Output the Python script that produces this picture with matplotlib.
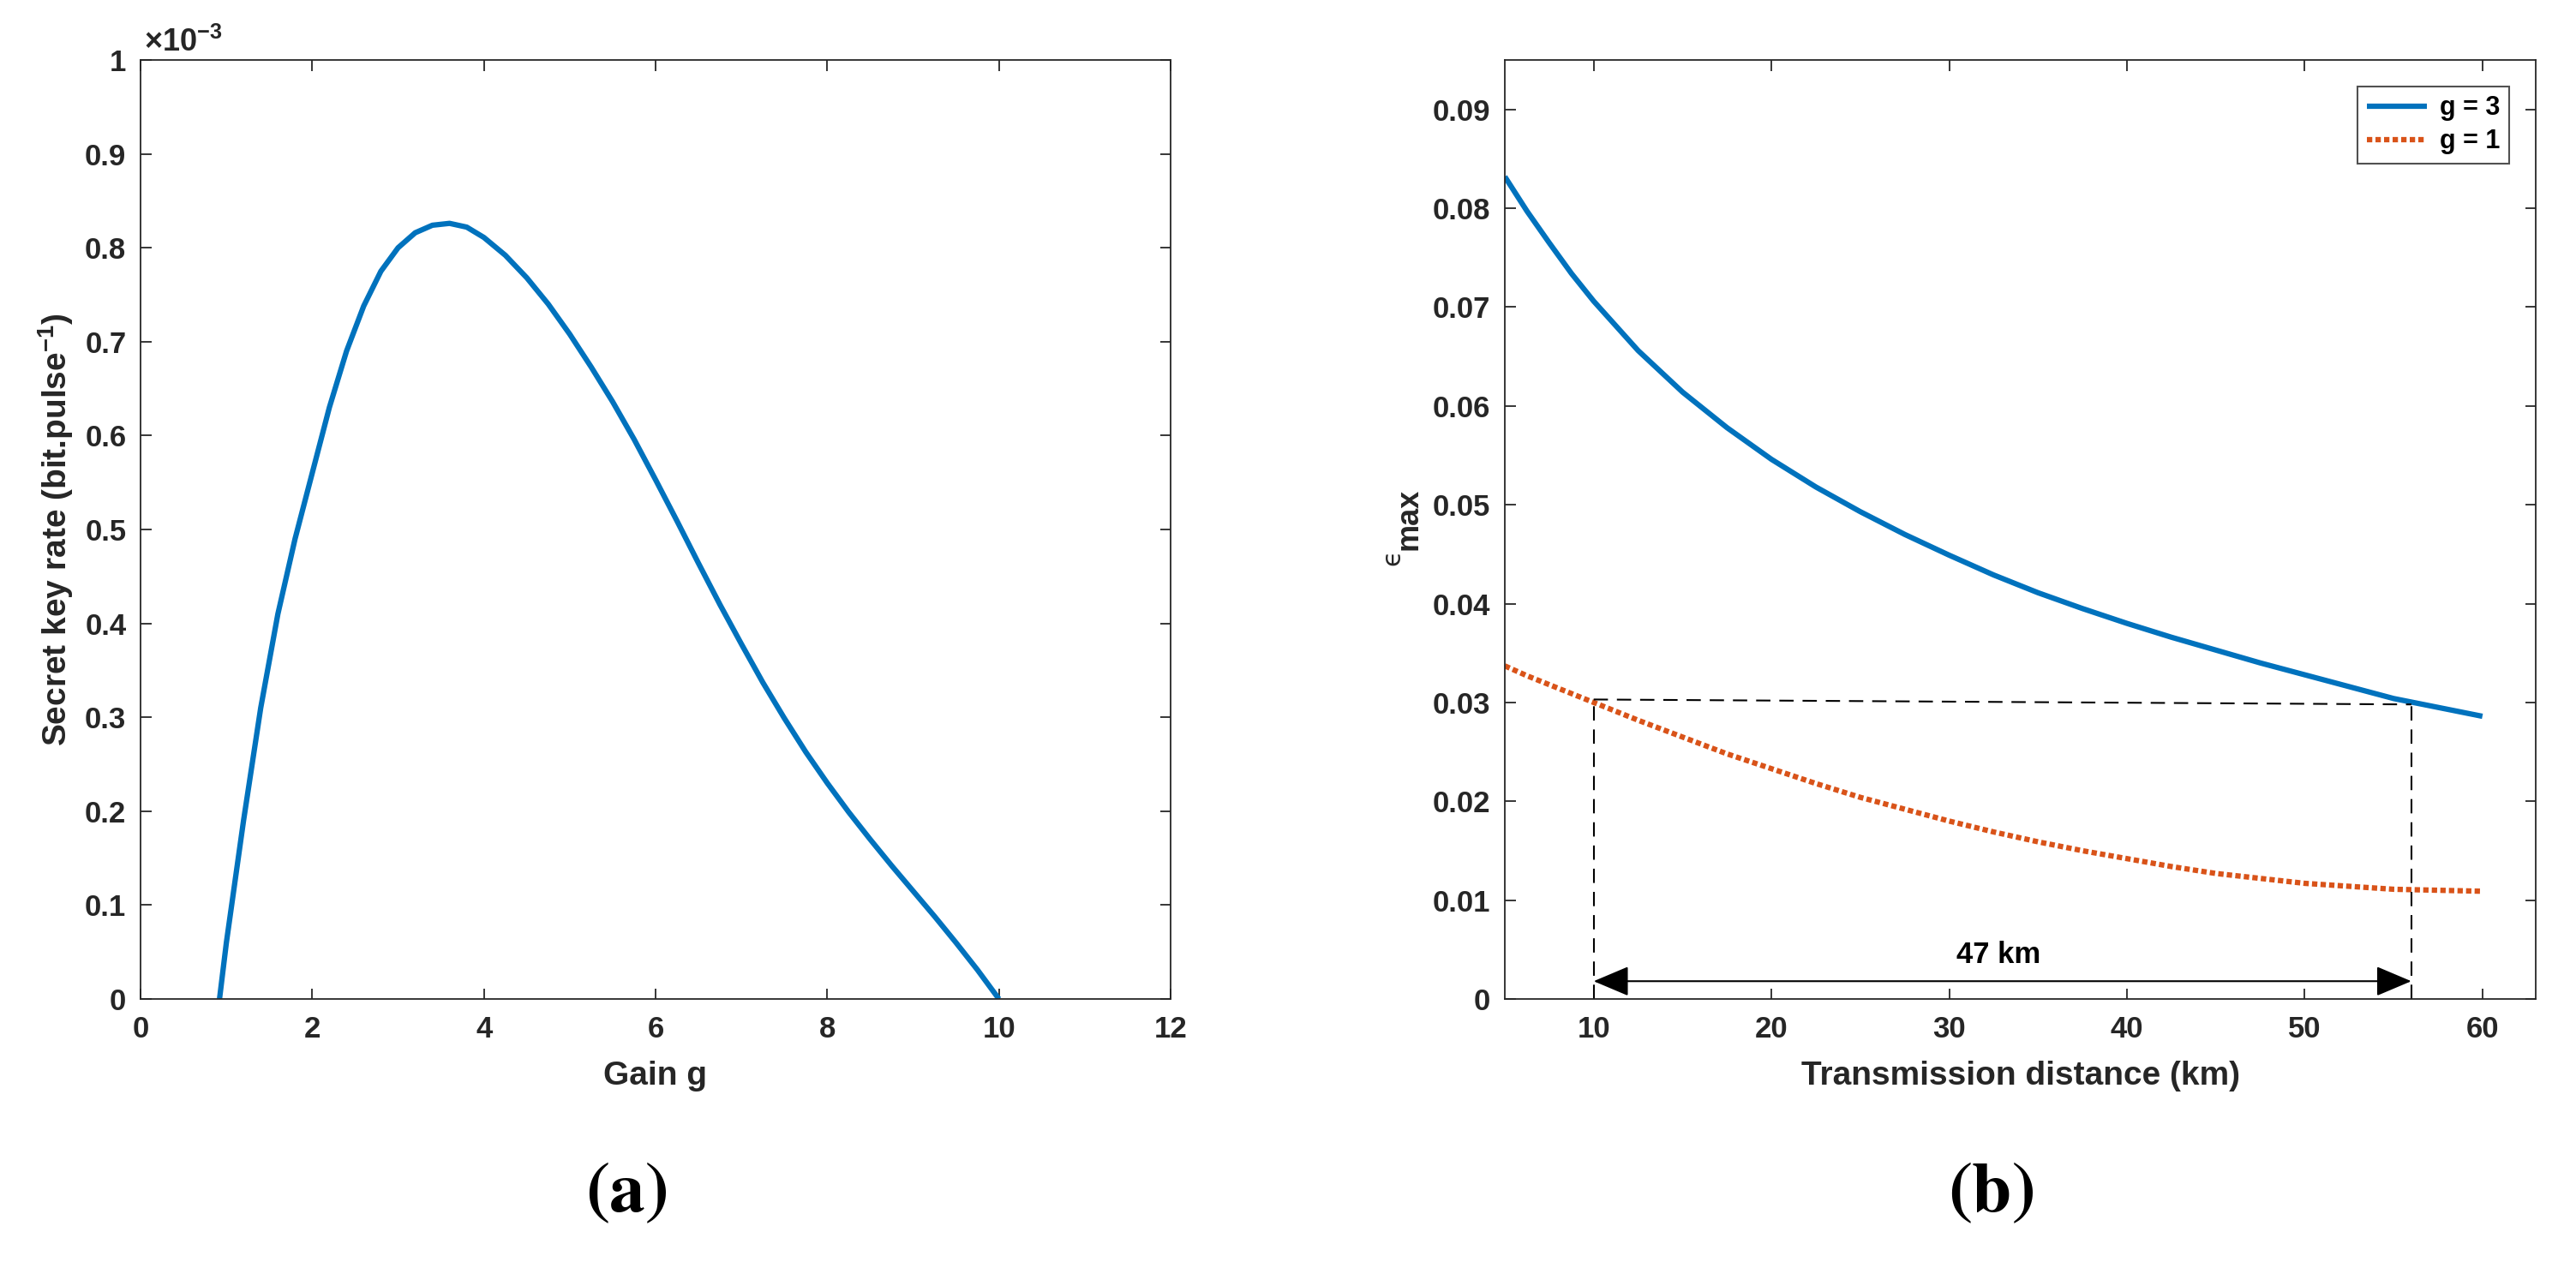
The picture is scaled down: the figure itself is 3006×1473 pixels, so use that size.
import matplotlib
matplotlib.use('Agg')
import matplotlib.pyplot as plt
from matplotlib.ticker import FixedLocator, FixedFormatter

plt.rcParams['font.family'] = ['Liberation Sans', 'DejaVu Sans']
plt.rcParams['font.weight'] = 'bold'
plt.rcParams['mathtext.fontset'] = 'custom'
plt.rcParams['mathtext.rm'] = 'Liberation Sans:bold'
plt.rcParams['mathtext.bf'] = 'Liberation Sans:bold'
plt.rcParams['mathtext.it'] = 'Liberation Sans:bold:italic'

# ---------------- data: panel (a) ----------------
gain = [0.92, 1.0, 1.2, 1.4, 1.6, 1.8, 2.0, 2.2, 2.4, 2.6, 2.8, 3.0, 3.2, 3.4,
        3.6, 3.8, 4.0, 4.25, 4.5, 4.75, 5.0, 5.25, 5.5, 5.75, 6.0, 6.25, 6.5,
        6.75, 7.0, 7.25, 7.5, 7.75, 8.0, 8.25, 8.5, 8.75, 9.0, 9.25, 9.5, 9.75, 10.0]
key_rate_e3 = [0.0, 0.06, 0.19, 0.31, 0.41, 0.49, 0.56, 0.63, 0.69, 0.738, 0.775,
               0.80, 0.816, 0.824, 0.826, 0.822, 0.811, 0.792, 0.768, 0.740, 0.708,
               0.673, 0.636, 0.596, 0.553, 0.509, 0.464, 0.420, 0.378, 0.337, 0.299,
               0.263, 0.230, 0.199, 0.170, 0.142, 0.115, 0.088, 0.060, 0.031, 0.0]

a_xticks = [0, 2, 4, 6, 8, 10, 12]
a_yticks = [0, 0.1, 0.2, 0.3, 0.4, 0.5, 0.6, 0.7, 0.8, 0.9, 1.0]
a_yticklabels = ['0', '0.1', '0.2', '0.3', '0.4', '0.5', '0.6', '0.7', '0.8', '0.9', '1']

# ---------------- data: panel (b) ----------------
distance = [5, 6.25, 7.5, 8.75, 10, 12.5, 15, 17.5, 20, 22.5, 25, 27.5, 30, 32.5,
            35, 37.5, 40, 42.5, 45, 47.5, 50, 52.5, 55, 57.5, 60]
eps_g3 = [0.0832, 0.0797, 0.0765, 0.0734, 0.0706, 0.0656, 0.0614, 0.0578, 0.0546,
          0.0518, 0.0493, 0.0470, 0.0449, 0.0429, 0.0411, 0.0395, 0.0380, 0.0366,
          0.0353, 0.0340, 0.0328, 0.0316, 0.0304, 0.0295, 0.0286]
eps_g1 = [0.0337, 0.0327, 0.0318, 0.0309, 0.0300, 0.0282, 0.0265, 0.0248, 0.0233,
          0.0218, 0.0204, 0.0192, 0.0180, 0.0169, 0.0159, 0.0150, 0.0142, 0.0134,
          0.0127, 0.0122, 0.0117, 0.0114, 0.0111, 0.0110, 0.0109]
b_xticks = [10, 20, 30, 40, 50, 60]
b_yticks = [0, 0.01, 0.02, 0.03, 0.04, 0.05, 0.06, 0.07, 0.08, 0.09]
b_yticklabels = ['0', '0.01', '0.02', '0.03', '0.04', '0.05', '0.06', '0.07', '0.08', '0.09']
series_labels = ['g = 3', 'g = 1']

# annotation geometry (data units)
guide_x = [10, 56]
guide_y = [0.0303, 0.0298]
arrow_y = 0.0018
span_label = '47 km'

BLUE = '#0072BD'
ORANGE = '#D95319'
AX = '#262626'

W, H = 3006, 1473
fig = plt.figure(figsize=(W / 100, H / 100), dpi=100)

def style_axes(ax):
    for s in ax.spines.values():
        s.set_linewidth(1.3)
        s.set_color(AX)
    ax.tick_params(direction='in', which='both', top=True, right=True,
                   length=9, width=1.3, color=AX, labelcolor=AX, labelsize=25)
    ax.tick_params(axis='x', pad=14)
    ax.tick_params(axis='y', pad=12)
    for lab in ax.get_xticklabels() + ax.get_yticklabels():
        lab.set_fontweight('bold')

# ---------------- panel (a) ----------------
ax1 = fig.add_axes([164 / W, 307 / H, 1202 / W, 1096 / H])
ax1.plot(gain, key_rate_e3, color=BLUE, lw=4.5, solid_capstyle='butt',
         solid_joinstyle='round')
ax1.set_xlim(0, 12)
ax1.set_ylim(0, 1.0)
ax1.xaxis.set_major_locator(FixedLocator(a_xticks))
ax1.yaxis.set_major_locator(FixedLocator(a_yticks))
ax1.yaxis.set_major_formatter(FixedFormatter(a_yticklabels))
style_axes(ax1)
ax1.set_xlabel('Gain g', fontsize=28, fontweight='bold', color=AX, labelpad=14)
ax1.set_ylabel(r'Secret key rate (bit.pulse$^{-1}$)', fontsize=28,
               fontweight='bold', color=AX, labelpad=8)
ax1.text(0.003, 1.009, r'$\times$10$^{-3}$', transform=ax1.transAxes,
         fontsize=26, color=AX, ha='left', va='baseline', fontweight='bold')

# ---------------- panel (b) ----------------
ax2 = fig.add_axes([1756 / W, 307 / H, 1203 / W, 1096 / H])
l1, = ax2.plot(distance, eps_g3, color=BLUE, lw=4.5, solid_capstyle='butt',
               solid_joinstyle='round', label=series_labels[0])
l2, = ax2.plot(distance, eps_g1, color=ORANGE, lw=4.5, linestyle=(0, (1, 0.6)),
               dash_capstyle='butt', label=series_labels[1])
ax2.set_xlim(5, 63)
ax2.set_ylim(0, 0.095)
ax2.xaxis.set_major_locator(FixedLocator(b_xticks))
ax2.yaxis.set_major_locator(FixedLocator(b_yticks))
ax2.yaxis.set_major_formatter(FixedFormatter(b_yticklabels))
style_axes(ax2)
ax2.set_xlabel('Transmission distance (km)', fontsize=28, fontweight='bold',
               color=AX, labelpad=14)

# y label: small epsilon with bold "max" subscript
fig.text(1633 / W, 1 - 651 / H, '\u03f5', fontsize=22, fontweight='normal',
         family=['DejaVu Sans'], color=AX, rotation=90, rotation_mode='anchor',
         ha='center', va='baseline')
fig.text(1653 / W, 1 - 606 / H, 'max', fontsize=26, fontweight='bold',
         color=AX, rotation=90, rotation_mode='anchor', ha='center', va='baseline')

dash = (0, (8, 5))
ax2.plot([guide_x[0], guide_x[0]], [0, guide_y[0]], color='k', lw=1.5, linestyle=dash)
ax2.plot([guide_x[1], guide_x[1]], [0, guide_y[1]], color='k', lw=1.5, linestyle=dash)
ax2.plot(guide_x, guide_y, color='k', lw=1.5, linestyle=dash)
ax2.annotate('', xy=(guide_x[1], arrow_y), xytext=(guide_x[0], arrow_y),
             arrowprops=dict(arrowstyle='<|-|>,head_length=1.3,head_width=0.55',
                             lw=1.5, color='k', shrinkA=0, shrinkB=0,
                             mutation_scale=20))
ax2.text((guide_x[0] + guide_x[1]) / 2 - 0.2, 0.0036, span_label, fontsize=25,
         fontweight='bold', color='k', ha='center', va='baseline')

leg = ax2.legend(handles=[l1, l2], loc='upper right',
                 prop={'weight': 'bold', 'size': 22}, frameon=True, fancybox=False,
                 edgecolor=AX, handlelength=2.3, handletextpad=0.5,
                 borderpad=0.35, labelspacing=0.3, borderaxespad=1.0)
leg.get_frame().set_linewidth(1.5)
for t in leg.get_texts():
    t.set_color('k')

# ---------------- panel captions ----------------
fig.text(731 / W, 1 - 1392 / H, r'$(\mathbf{a})$', fontsize=60, ha='center',
         va='center', math_fontfamily='stix', color='k')
fig.text(2323 / W, 1 - 1392 / H, r'$(\mathbf{b})$', fontsize=60, ha='center',
         va='center', math_fontfamily='stix', color='k')

fig.savefig('out.png', dpi=100)
